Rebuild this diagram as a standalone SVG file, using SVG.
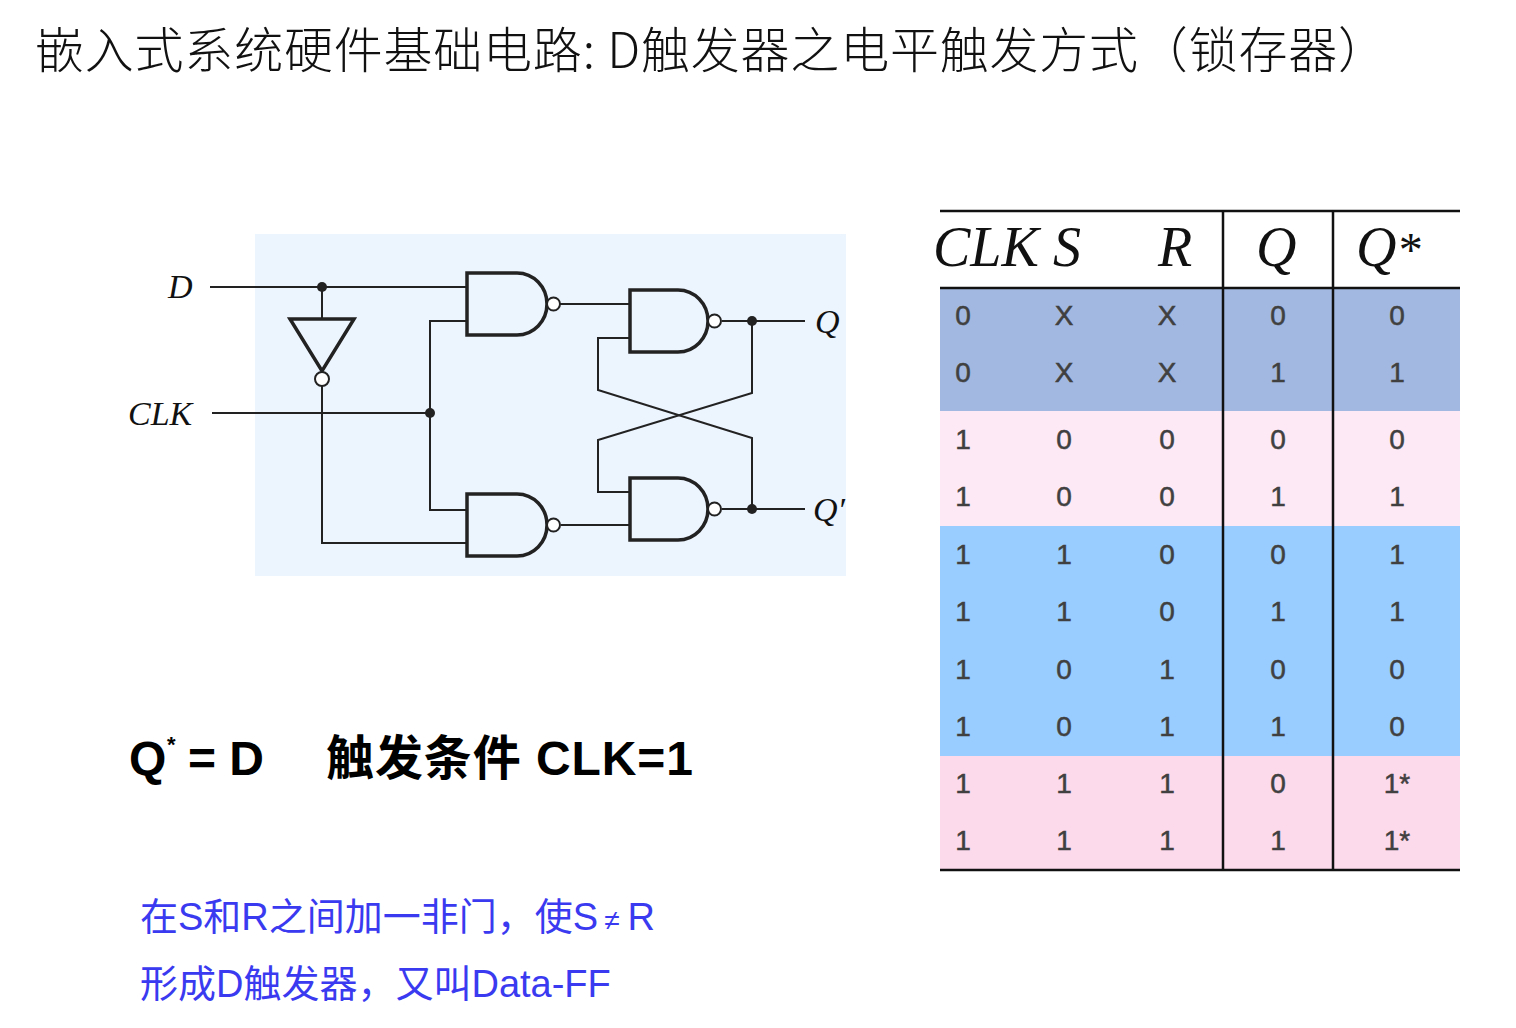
<svg xmlns="http://www.w3.org/2000/svg" width="1516" height="1028" viewBox="0 0 1516 1028">
<style>
.wire{fill:none;stroke:#222;stroke-width:2}
.gate{fill:none;stroke:#222;stroke-width:3.5;stroke-linejoin:miter}
.bub{fill:#fff;stroke:#222;stroke-width:2}
.dot{fill:#222}
.lbl{font-family:"Liberation Serif",serif;font-style:italic;font-size:34px;fill:#111}
.hdr{font-family:"Liberation Serif",serif;font-style:italic;font-size:56px;fill:#111}
.cell{font-family:"Liberation Sans",Arial,sans-serif;font-size:28px;fill:#404040;stroke:#404040;stroke-width:0.5;text-anchor:middle}
.tl{stroke:#111;stroke-width:2.5}
.blue{font-family:"Liberation Sans","Noto Sans CJK SC",sans-serif;font-size:38px;fill:#3a3af0}
</style>
<rect width="1516" height="1028" fill="#fff"/>
<text id="title" x="35" y="68" font-family="Noto Sans CJK SC, sans-serif" font-weight="300" font-size="49" fill="#111" textLength="1352" lengthAdjust="spacing">嵌入式系统硬件基础电路: D触发器之电平触发方式（锁存器）</text>

<rect x="255" y="234" width="591" height="342" fill="#ecf4fe"/>

<g id="connectors">
<path class="wire" d="M210,287 H467"/>
<path class="wire" d="M322,287 V319"/>
<path class="wire" d="M322,386 V543 H467"/>
<path class="wire" d="M212,413 H430"/>
<path class="wire" d="M467,321 H430 V510 H467"/>
<path class="wire" d="M560,304 H630"/>
<path class="wire" d="M561,525 H630"/>
<path class="wire" d="M722,321 H805"/>
<path class="wire" d="M722,509 H805"/>
<path class="wire" d="M752,321 V393 L598,440 V492 H630"/>
<path class="wire" d="M630,338 H598 V390 L752,438 V509"/>
<circle class="dot" cx="322" cy="287" r="5"/>
<circle class="dot" cx="430" cy="413" r="5"/>
<circle class="dot" cx="752" cy="321" r="5"/>
<circle class="dot" cx="752" cy="509" r="5"/>
</g>

<g id="inverter">
<path class="gate" d="M290,319 H354 L322,371 Z"/>
<circle class="bub" cx="322" cy="379" r="7"/>
</g>
<g id="nand1">
<path class="gate" d="M467,273 H517 A30,31 0 0 1 517,335 H467 Z"/>
<circle class="bub" cx="553.5" cy="304" r="6.5"/>
</g>
<g id="nand2">
<path class="gate" d="M467,494 H517 A30,31 0 0 1 517,556 H467 Z"/>
<circle class="bub" cx="553.5" cy="525" r="6.5"/>
</g>
<g id="nand3">
<path class="gate" d="M630,290 H678 A30,31 0 0 1 678,352 H630 Z"/>
<circle class="bub" cx="714.5" cy="321" r="6.5"/>
</g>
<g id="nand4">
<path class="gate" d="M630,478 H678 A30,31 0 0 1 678,540 H630 Z"/>
<circle class="bub" cx="714.5" cy="509" r="6.5"/>
</g>
<g id="labels">
<text class="lbl" x="168" y="298">D</text>
<text class="lbl" x="128" y="425">CLK</text>
<text class="lbl" x="815" y="333">Q</text>
<text class="lbl" x="813" y="521">Q′</text>
</g>

<g id="table">
<rect x="940" y="288" width="520" height="123" fill="#a2b8e0"/>
<rect x="940" y="411" width="520" height="115" fill="#fde8f5"/>
<rect x="940" y="526" width="520" height="230" fill="#99ccff"/>
<rect x="940" y="756" width="520" height="114" fill="#fdd9ec"/>
<line class="tl" x1="940" y1="211" x2="1460" y2="211"/>
<line class="tl" x1="940" y1="288" x2="1460" y2="288"/>
<line class="tl" x1="940" y1="870" x2="1460" y2="870"/>
<line class="tl" x1="1223" y1="211" x2="1223" y2="870"/>
<line class="tl" x1="1333" y1="211" x2="1333" y2="870"/>
<text class="hdr" x="933" y="266">CLK</text>
<text class="hdr" x="1053" y="266">S</text>
<text class="hdr" x="1158" y="266">R</text>
<text class="hdr" x="1256" y="266">Q</text>
<text class="hdr" x="1356" y="266">Q<tspan font-size="48">*</tspan></text>
<g class="cell">
<text x="963" y="325">0</text><text x="1064" y="325">X</text><text x="1167" y="325">X</text><text x="1278" y="325">0</text><text x="1397" y="325">0</text>
<text x="963" y="382">0</text><text x="1064" y="382">X</text><text x="1167" y="382">X</text><text x="1278" y="382">1</text><text x="1397" y="382">1</text>
<text x="963" y="449">1</text><text x="1064" y="449">0</text><text x="1167" y="449">0</text><text x="1278" y="449">0</text><text x="1397" y="449">0</text>
<text x="963" y="506">1</text><text x="1064" y="506">0</text><text x="1167" y="506">0</text><text x="1278" y="506">1</text><text x="1397" y="506">1</text>
<text x="963" y="564">1</text><text x="1064" y="564">1</text><text x="1167" y="564">0</text><text x="1278" y="564">0</text><text x="1397" y="564">1</text>
<text x="963" y="621">1</text><text x="1064" y="621">1</text><text x="1167" y="621">0</text><text x="1278" y="621">1</text><text x="1397" y="621">1</text>
<text x="963" y="679">1</text><text x="1064" y="679">0</text><text x="1167" y="679">1</text><text x="1278" y="679">0</text><text x="1397" y="679">0</text>
<text x="963" y="736">1</text><text x="1064" y="736">0</text><text x="1167" y="736">1</text><text x="1278" y="736">1</text><text x="1397" y="736">0</text>
<text x="963" y="793">1</text><text x="1064" y="793">1</text><text x="1167" y="793">1</text><text x="1278" y="793">0</text><text x="1397" y="793">1*</text>
<text x="963" y="850">1</text><text x="1064" y="850">1</text><text x="1167" y="850">1</text><text x="1278" y="850">1</text><text x="1397" y="850">1*</text>
</g>
</g>

<g id="formula" font-family="Liberation Sans, Noto Sans CJK SC, sans-serif" font-weight="bold" font-size="48" fill="#000">
<text x="129" y="775">Q</text>
<text x="167" y="752" font-size="22">*</text>
<text x="188" y="775">= D</text>
<text x="326" y="775" textLength="367" lengthAdjust="spacing">触发条件 CLK=1</text>
</g>

<g id="note">
<text class="blue" x="140" y="930">在S和R之间加一非门，使S<tspan dx="6" font-size="28">≠</tspan><tspan dx="8">R</tspan></text>
<text class="blue" x="140" y="997">形成D触发器，又叫Data-FF</text>
</g>
</svg>
